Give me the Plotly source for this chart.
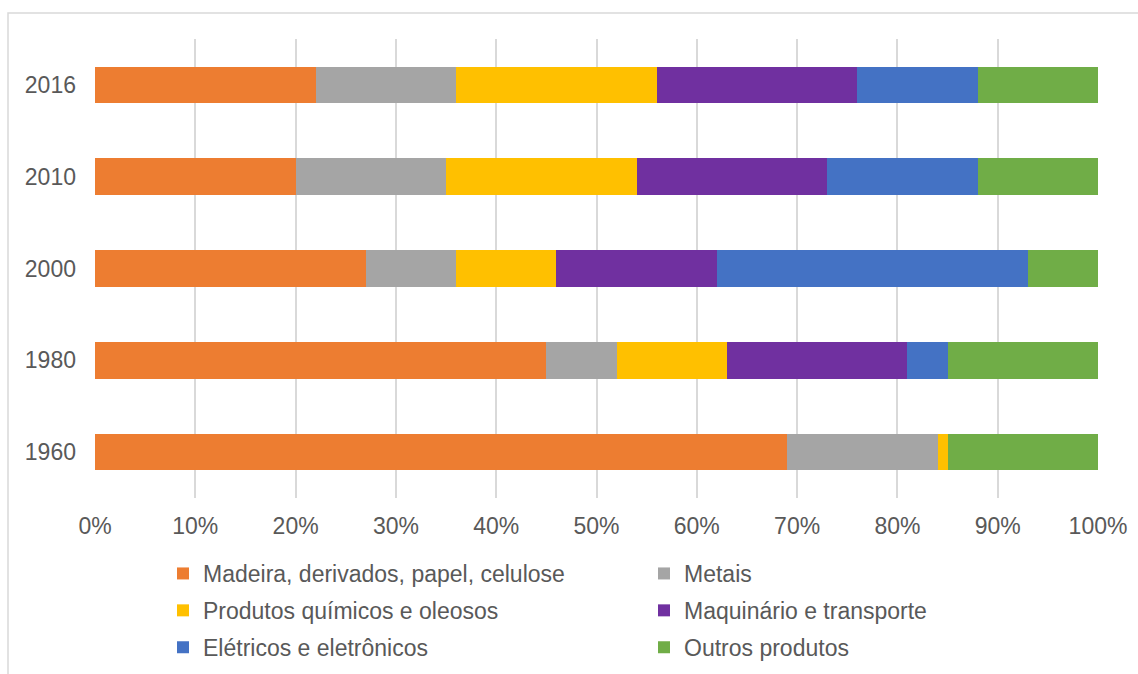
import plotly.graph_objects as go

years = ["1960", "1980", "2000", "2010", "2016"]
series_names = [
    "Madeira, derivados, papel, celulose",
    "Metais",
    "Produtos químicos e oleosos",
    "Maquinário e transporte",
    "Elétricos e eletrônicos",
    "Outros produtos",
]
madeira = [69, 45, 27, 20, 22]
metais = [15, 7, 9, 15, 14]
quimicos = [1, 11, 10, 19, 20]
maquinario = [0, 18, 16, 19, 20]
eletricos = [0, 4, 31, 15, 12]
outros = [15, 15, 7, 12, 12]
colors = ["#ED7D31", "#A5A5A5", "#FFC000", "#7030A0", "#4472C4", "#70AD47"]
x_ticks = [0, 10, 20, 30, 40, 50, 60, 70, 80, 90, 100]
x_tick_labels = ["0%", "10%", "20%", "30%", "40%", "50%", "60%", "70%", "80%", "90%", "100%"]

values = [madeira, metais, quimicos, maquinario, eletricos, outros]
legend_ids = ["legend", "legend2", "legend", "legend2", "legend", "legend2"]

W, H = 1138, 674
ml, mr, mt, mb = 95, 40, 39, 176
pw, ph = W - ml - mr, H - mt - mb


def px_x(x):
    return (x - ml) / pw


def px_y(y):
    return (H - mb - y) / ph


fig = go.Figure()
for name, vals, col, lg in zip(series_names, values, colors, legend_ids):
    fig.add_trace(go.Bar(
        y=years, x=vals, name=name, orientation="h",
        marker=dict(color=col, line=dict(width=0)),
        legend=lg, legendgroup=name,
    ))

font = dict(family="Liberation Sans, Arial, sans-serif", size=23, color="#595959")
leg_common = dict(orientation="v", traceorder="grouped", tracegroupgap=4,
                  font=font, bgcolor="rgba(0,0,0,0)", borderwidth=0,
                  xanchor="left", yanchor="top")

fig.update_layout(
    width=W, height=H,
    margin=dict(l=ml, r=mr, t=mt, b=mb, pad=0, autoexpand=False),
    paper_bgcolor="white", plot_bgcolor="white",
    barmode="stack", bargap=0.6,
    font=font,
    xaxis=dict(range=[0, 100], tickmode="array", tickvals=x_ticks, ticktext=x_tick_labels,
               showgrid=True, gridcolor="#d9d9d9", gridwidth=1.5,
               zeroline=False, showline=False, ticks="",
               tickfont=font, ticklabelstandoff=12, fixedrange=True, automargin=False),
    yaxis=dict(type="category", categoryorder="array", categoryarray=years,
               showgrid=False, zeroline=False, showline=False, ticks="",
               tickfont=font, ticklabelstandoff=18, fixedrange=True, automargin=False),
    legend=dict(x=px_x(163), y=px_y(552), **leg_common),
    legend2=dict(x=px_x(644), y=px_y(552), **leg_common),
    shapes=[dict(type="rect", xref="paper", yref="paper",
                 x0=px_x(8), x1=px_x(1160), y0=px_y(13), y1=px_y(700),
                 line=dict(color="#d9d9d9", width=1.5), fillcolor="rgba(0,0,0,0)",
                 layer="below")],
)

fig.write_html("out.html")
